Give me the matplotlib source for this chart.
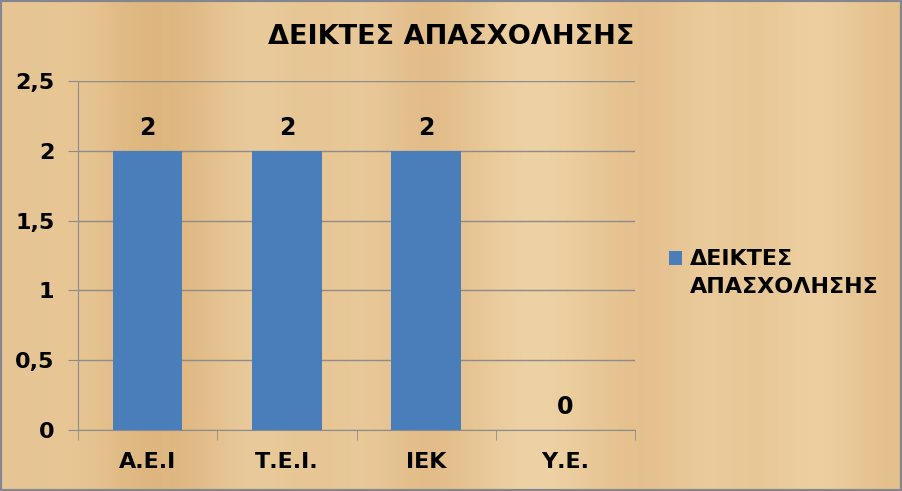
import numpy as np
import matplotlib.pyplot as plt
from matplotlib.colors import to_rgb

categories = ["Α.Ε.Ι", "Τ.Ε.Ι.", "ΙΕΚ", "Υ.Ε."]
values = [2, 2, 2, 0]
series_name = "ΔΕΙΚΤΕΣ\nΑΠΑΣΧΟΛΗΣΗΣ"
title = "ΔΕΙΚΤΕΣ ΑΠΑΣΧΟΛΗΣΗΣ"

plt.rcParams['font.family'] = ['DejaVu Sans']

fig = plt.figure(figsize=(9.02, 4.91), dpi=100)

# wood-ish background: vertical bands of tan
bg = fig.add_axes([0, 0, 1, 1], zorder=-10)
bands = ["#e6c494", "#e9c997", "#dcb27a", "#e0b984", "#ecd0a2", "#e5c18e",
         "#eccda0", "#dfb781", "#e8c796", "#f0d6ab", "#e9c897", "#e2bc88",
         "#edcfa1", "#e6c390", "#f0d5a9", "#e4bf8b"]
tex = np.array([[to_rgb(c) for c in bands]])
bg.imshow(tex, aspect='auto', interpolation='bicubic', extent=[0, 1, 0, 1])
bg.set_xlim(0, 1)
bg.set_ylim(0, 1)
bg.axis('off')
fig.patches.append(plt.Rectangle((0, 0), 1, 1, transform=fig.transFigure,
                                 fill=False, edgecolor="#85858f", linewidth=3))

ax = fig.add_axes([0.0865, 0.1242, 0.6175, 0.7108])
ax.patch.set_alpha(0)

x = np.arange(len(categories))
bars = ax.bar(x, values, width=0.5, color="#4a7ebb", zorder=3, label=series_name)

ax.set_xlim(-0.5, len(categories) - 0.5)
ax.set_ylim(0, 2.5)
ax.set_yticks([0, 0.5, 1, 1.5, 2, 2.5])
ax.set_yticklabels(["0", "0,5", "1", "1,5", "2", "2,5"], fontsize=16, fontweight='bold')
ax.set_xticks(x)
ax.set_xticklabels(categories, fontsize=16, fontweight='bold')
ax.tick_params(axis='x', length=0, pad=16)
ax.tick_params(axis='y', length=7, color="#8c8c8c", pad=10)
ax.set_xticks(np.arange(len(categories) + 1) - 0.5, minor=True)
ax.tick_params(axis='x', which='minor', length=7, color="#8c8c8c")

ax.grid(axis='y', color="#8c8c8c", linewidth=1)
ax.set_axisbelow(True)
for s in ['top', 'right']:
    ax.spines[s].set_visible(False)
for s in ['left', 'bottom']:
    ax.spines[s].set_color("#8c8c8c")

for xi, v in zip(x, values):
    ax.annotate(str(v), (xi, v), xytext=(0, 8), textcoords='offset points',
                ha='center', va='bottom', fontsize=17, fontweight='bold')

fig.text(0.5, 0.925, title, ha='center', va='center', fontsize=19.5, fontweight='bold')

leg = ax.legend(loc='center left', bbox_to_anchor=(1.025, 0.45), frameon=False,
                prop={'size': 16, 'weight': 'bold'},
                handlelength=0.6, handleheight=0.6, handletextpad=0.35)
for t in leg.get_texts():
    t.set_linespacing(1.5)
# put the square next to the first line, like the original
h = leg.legend_handles[0]
h.set_y(h.get_y() + 11)

fig.savefig("out.png", dpi=100)
